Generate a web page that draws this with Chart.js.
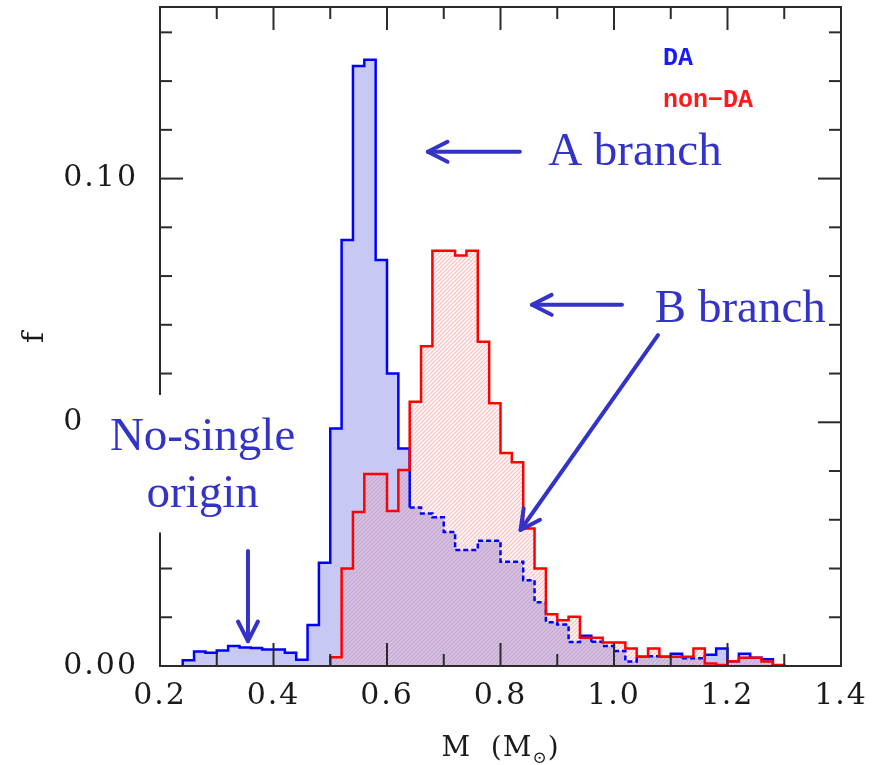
<!DOCTYPE html>
<html>
<head>
<meta charset="utf-8">
<script src="https://cdn.jsdelivr.net/npm/chart.js@4.4.0/dist/chart.umd.min.js"></script>
<style>
    body { margin: 0; background: #fff; }
</style>
</head>
<body>
<canvas id="massChart" width="883" height="765"></canvas>
<script>
// histogram bin edges, M in solar masses
const massEdges = [
    0.24, 0.26, 0.28, 0.30, 0.32, 0.34, 0.36, 0.38, 0.40, 0.42,
    0.44, 0.46, 0.48, 0.50, 0.52, 0.54, 0.56, 0.58, 0.60, 0.62,
    0.64, 0.66, 0.68, 0.70, 0.72, 0.74, 0.76, 0.78, 0.80, 0.82,
    0.84, 0.86, 0.88, 0.90, 0.92, 0.94, 0.96, 0.98, 1.00, 1.02,
    1.04, 1.06, 1.08, 1.10, 1.12, 1.14, 1.16, 1.18, 1.20, 1.22,
    1.24, 1.26, 1.28, 1.30,
];

// fraction per bin, DA white dwarfs (first bin starts at 0.24)
const daValues = [
    0.0012, 0.0030, 0.0027, 0.0032, 0.0041, 0.0038, 0.0037, 0.0034, 0.0034, 0.0027,
    0.0013, 0.0084, 0.0212, 0.0487, 0.0874, 0.1231, 0.1244, 0.0833, 0.0600, 0.0446,
    0.0325, 0.0313, 0.0305, 0.0275, 0.0238, 0.0238, 0.0257, 0.0257, 0.0214, 0.0214,
    0.0176, 0.0131, 0.0090, 0.0085, 0.0049, 0.0062, 0.0050, 0.0041, 0.0031, 0.0009,
    0.0019, 0.0020, 0.0019, 0.0025, 0.0016, 0.0016, 0.0023, 0.0036, 0.0010, 0.0025,
    0.0017, 0.0014,
];

// fraction per bin, non-DA white dwarfs (empty below 0.50)
const nonDaValues = [
    null, null, null, null, null, null, null, null, null, null,
    null, null, null, 0.0018, 0.0200, 0.0316, 0.0394, 0.0394, 0.0318, 0.0402,
    0.0542, 0.0656, 0.0852, 0.0852, 0.0842, 0.0852, 0.0665, 0.0539, 0.0437, 0.0418,
    0.0282, 0.0200, 0.0106, 0.0094, 0.0101, 0.0058, 0.0058, 0.0048, 0.0048, 0.0036,
    0.0019, 0.0036, 0.0019, 0.0019, 0.0019, 0.0036, 0.0005, 0.0002, 0.0010, 0.0017,
    0.0017, 0.0009, 0.0002,
];

const xMajorTicks = [0.2, 0.4, 0.6, 0.8, 1.0, 1.2, 1.4];
const xMinorTicks = [0.3, 0.5, 0.7, 0.9, 1.1, 1.3];
const yMajorTicks = [0.00, 0.05, 0.10];
const yMinorTicks = [0.01, 0.02, 0.03, 0.04, 0.06, 0.07, 0.08, 0.09, 0.11, 0.12, 0.13];

const inkBlue = "#3333c8";

// turn per-bin values into the corner points of a stepped outline
const toSteps = (values) => {
    let first = values.findIndex((v) => v !== null);
    let pts = [{ x: massEdges[first], y: 0 }];
    values.forEach((v, i) => {
        if (v !== null) pts.push({ x: massEdges[i], y: v });
    });
    pts.push({ x: massEdges[values.length], y: 0 });
    return pts;
};

const edgeIndex = (m) => massEdges.findIndex((e) => Math.abs(e - m) < 1e-6);

let canva = document.getElementById("massChart");

// pink diagonal hatching for the non-DA fill
let hatch = document.createElement("canvas");
hatch.width = 4;
hatch.height = 4;
let hc = hatch.getContext("2d");
hc.strokeStyle = "rgba(236, 120, 120, 0.42)";
hc.lineWidth = 1.4;
hc.beginPath();
hc.moveTo(0, 4); hc.lineTo(4, 0);
hc.moveTo(-1, 1); hc.lineTo(1, -1);
hc.moveTo(3, 5); hc.lineTo(5, 3);
hc.stroke();
const hatchPattern = canva.getContext("2d").createPattern(hatch, "repeat");

const line = (ctx, x0, y0, x1, y1) => {
    ctx.beginPath();
    ctx.moveTo(x0, y0);
    ctx.lineTo(x1, y1);
    ctx.stroke();
};

const arrow = (ctx, x0, y0, x1, y1) => {
    const ang = Math.atan2(y1 - y0, x1 - x0);
    const head = 22, spread = 0.47;
    line(ctx, x0, y0, x1, y1);
    ctx.beginPath();
    ctx.moveTo(x1 - head * Math.cos(ang - spread), y1 - head * Math.sin(ang - spread));
    ctx.lineTo(x1, y1);
    ctx.lineTo(x1 - head * Math.cos(ang + spread), y1 - head * Math.sin(ang + spread));
    ctx.stroke();
};

// no automatic room for end labels; the plot box is fixed by the padding
const noScalePadding = (s) => {
    s.paddingTop = 0;
    s.paddingBottom = 0;
    s.paddingLeft = 0;
    s.paddingRight = 0;
};

// the axis numbers are set with a little extra tracking
const spacingPlugin = {
    id: "spacing",
    beforeDraw(chart) {
        chart.ctx.letterSpacing = "2px";
    },
};

// box round the plot with inward ticks on all four sides
const framePlugin = {
    id: "frame",
    afterDatasetsDraw(chart) {
        const { ctx, chartArea: a, scales } = chart;
        const x = scales.x, y = scales.y;
        ctx.save();
        ctx.strokeStyle = "#2b2b2b";
        ctx.lineWidth = 2;
        ctx.strokeRect(a.left, a.top, a.right - a.left, a.bottom - a.top);
        const xt = (v, len) => {
            const p = x.getPixelForValue(v);
            line(ctx, p, a.bottom, p, a.bottom - len);
            line(ctx, p, a.top, p, a.top + len);
        };
        const yt = (v, len) => {
            const p = y.getPixelForValue(v);
            line(ctx, a.left, p, a.left + len, p);
            line(ctx, a.right, p, a.right - len, p);
        };
        xMajorTicks.forEach((v) => xt(v, 23));
        xMinorTicks.forEach((v) => xt(v, 12));
        yMajorTicks.forEach((v) => yt(v, 23));
        yMinorTicks.forEach((v) => yt(v, 12));
        ctx.restore();
    },
};

// labels, arrows, legend and the x-axis title
const notesPlugin = {
    id: "notes",
    afterDraw(chart) {
        const { ctx, chartArea: a, scales } = chart;
        const px = (m) => scales.x.getPixelForValue(m);
        const py = (f) => scales.y.getPixelForValue(f);
        ctx.save();
        ctx.letterSpacing = "0px";

        // white patch behind the low-mass note
        ctx.fillStyle = "#fff";
        ctx.fillRect(px(0.068), py(0.0556), px(0.450) - px(0.068), py(0.0274) - py(0.0556));

        ctx.fillStyle = inkBlue;
        ctx.font = '47px "Liberation Serif"';
        ctx.textBaseline = "alphabetic";
        ctx.textAlign = "left";
        ctx.fillText("A branch", px(0.884), py(0.1028));
        ctx.fillText("B branch", px(1.072), py(0.0706));
        ctx.textAlign = "center";
        ctx.fillText("No-single", px(0.275), py(0.0443));
        ctx.fillText("origin", px(0.275), py(0.0326));

        ctx.strokeStyle = inkBlue;
        ctx.lineWidth = 4;
        ctx.lineCap = "round";
        ctx.lineJoin = "round";
        arrow(ctx, px(0.834), py(0.1055), px(0.672), py(0.1055));
        arrow(ctx, px(1.014), py(0.0741), px(0.8555), py(0.0741));
        arrow(ctx, px(1.0775), py(0.0679), px(0.8353), py(0.0279));
        arrow(ctx, px(0.355), py(0.0236), px(0.355), py(0.0051));

        // legend
        ctx.textAlign = "left";
        ctx.textBaseline = "middle";
        ctx.font = 'bold 25px "Liberation Mono"';
        ctx.fillStyle = "#1a1aff";
        ctx.fillText("DA", px(1.0863), py(0.1246));
        ctx.fillStyle = "#ff1a1a";
        ctx.fillText("non\u2212DA", px(1.0863), py(0.1160));

        // x-axis title with a subscript sun symbol
        ctx.fillStyle = "#1a1a1a";
        ctx.textBaseline = "alphabetic";
        ctx.letterSpacing = "1px";
        const big = '28px "DejaVu Serif"', small = '17px "DejaVu Serif"';
        const parts = [["M  (M", big, 0], ["\u2299", small, 7], [")", big, 0]];
        let widths = parts.map((p) => { ctx.font = p[1]; return ctx.measureText(p[0]).width; });
        let tx = (a.left + a.right) / 2 - widths.reduce((s, w) => s + w, 0) / 2;
        const base = 756;
        parts.forEach((p, i) => {
            ctx.font = p[1];
            ctx.fillText(p[0], tx, base + p[2]);
            tx += widths[i];
        });
        ctx.restore();
    },
};

const data = {
    datasets: [
        {
            // DA fill on its own, so the dashed outline does not split it
            label: "DA fill",
            data: toSteps(daValues),
            stepped: "before",
            borderWidth: 0,
            backgroundColor: "#c8c8f4",
            fill: "origin",
            pointRadius: 0,
            order: 3,
        },
        {
            label: "DA",
            data: toSteps(daValues),
            stepped: "before",
            borderColor: "#0000ff",
            borderWidth: 2.5,
            fill: false,
            pointRadius: 0,
            order: 2,
            segment: {
                // dashed where the outline runs under the non-DA histogram
                borderDash: (ctx) => {
                    const i = edgeIndex(ctx.p0.parsed.x);
                    const other = i >= 0 ? nonDaValues[i] || 0 : 0;
                    return other > ctx.p0.parsed.y ? [5, 3] : undefined;
                },
            },
        },
        {
            label: "non-DA",
            data: toSteps(nonDaValues),
            stepped: "before",
            borderColor: "#ff0000",
            borderWidth: 2.5,
            backgroundColor: hatchPattern,
            fill: "origin",
            pointRadius: 0,
            order: 1,
        },
    ],
};

const tickFont = { family: "DejaVu Serif", size: 30 };

const config = {
    type: "line",
    data: data,
    options: {
        responsive: false,
        animation: false,
        layout: { autoPadding: false, padding: { top: 7, right: 42, left: 0, bottom: 0 } },
        plugins: {
            legend: { display: false },
            tooltip: { enabled: false },
            filler: { drawTime: "beforeDatasetsDraw" },
        },
        scales: {
            x: {
                type: "linear",
                min: 0.2,
                max: 1.4,
                grid: { display: false, drawTicks: false },
                border: { display: false },
                afterBuildTicks: (s) => { s.ticks = xMajorTicks.map((v) => ({ value: v })); },
                afterFit: (s) => { s.height = 99; noScalePadding(s); },
                ticks: {
                    font: tickFont,
                    color: "#1a1a1a",
                    padding: 12,
                    maxRotation: 0,
                    autoSkip: false,
                    callback: (v) => v.toFixed(1),
                },
            },
            y: {
                min: 0,
                max: 0.1352,
                grid: { display: false, drawTicks: false },
                border: { display: false },
                afterBuildTicks: (s) => { s.ticks = yMajorTicks.map((v) => ({ value: v })); },
                afterFit: (s) => { s.width = 160; noScalePadding(s); },
                title: {
                    display: true,
                    text: "f",
                    font: { family: "DejaVu Serif", size: 30 },
                    color: "#1a1a1a",
                    padding: { top: 17, bottom: 0 },
                },
                ticks: {
                    font: tickFont,
                    color: "#1a1a1a",
                    padding: 22,
                    autoSkip: false,
                    callback: (v) => v.toFixed(2),
                },
            },
        },
    },
    plugins: [spacingPlugin, framePlugin, notesPlugin],
};

const myChart = new Chart(canva, config);
</script>
</body>
</html>
